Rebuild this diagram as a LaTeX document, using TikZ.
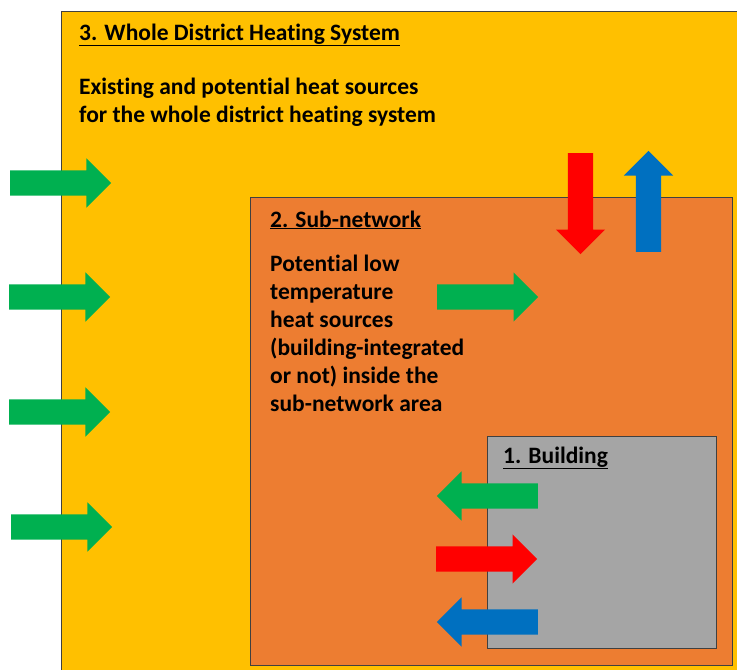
\documentclass[tikz,border=0pt]{standalone}
\usepackage{fontspec}
\setmainfont{Carlito}[Ligatures={NoCommon}]
\usetikzlibrary{shapes.arrows}
\definecolor{dhyellow}{HTML}{FFC000}
\definecolor{dhorange}{HTML}{ED7D31}
\definecolor{dhgray}{HTML}{A5A5A5}
\definecolor{dhgreen}{HTML}{00B050}
\definecolor{dhred}{HTML}{FF0000}
\definecolor{dhblue}{HTML}{0070C0}
\definecolor{boxline}{HTML}{404040}
\begin{document}
\begin{tikzpicture}[x=1pt,y=-1pt,
  box/.style={draw=boxline, line width=1pt},
  fatarrow/.style={single arrow, draw=none, inner xsep=0pt, inner ysep=12.5pt,
    single arrow head extend=12pt, minimum height=101pt, anchor=tail},
  txt/.style={font=\fontsize{23.5}{28}\selectfont\bfseries, align=left, inner sep=0pt, anchor=base west, text=black}]
\useasboundingbox (0,0) rectangle (737,670);
\clip (0,0) rectangle (737,670);
\fill[white] (0,0) rectangle (737,670);
% boxes
\draw[box, fill=dhyellow] (61,11) rectangle (760,690);
\draw[box, fill=dhorange] (250,197) rectangle (732,665);
\draw[box, fill=dhgray] (487,436) rectangle (716,648);
% texts (base west = baseline of the last line)
\node[txt] (t3) at (79,40) {\underline{3. Whole District Heating System}};
\node[txt] (d3) at (79,122) {Existing and potential heat sources\\for the whole district heating system};
\node[txt] (t2) at (270,227) {\underline{2. Sub-network}};
\node[txt] (d2) at (270,411) {Potential low\\temperature\\heat sources\\(building-integrated\\or not) inside the\\sub-network area};
\node[txt] (t1) at (503,463) {\underline{1. Building}};
% left green arrows (positioned by their tails)
\node[fatarrow, fill=dhgreen] (ga) at (10,183) {};
\node[fatarrow, fill=dhgreen] (gb) at (9,297) {};
\node[fatarrow, fill=dhgreen] (gc) at (9,412) {};
\node[fatarrow, fill=dhgreen] (gd) at (11,527) {};
% sub-network arrows
\node[fatarrow, fill=dhgreen] (gs) at (437,297) {};
\node[fatarrow, fill=dhred, rotate=-90] (rs) at (580.5,153) {};
\node[fatarrow, fill=dhblue, rotate=90] (bs) at (648.5,252) {};
% building arrows
\node[fatarrow, fill=dhgreen, rotate=180] (gbl) at (538,496) {};
\node[fatarrow, fill=dhred] (rbl) at (436,559) {};
\node[fatarrow, fill=dhblue, rotate=180] (bbl) at (538,622) {};
\end{tikzpicture}
\end{document}
